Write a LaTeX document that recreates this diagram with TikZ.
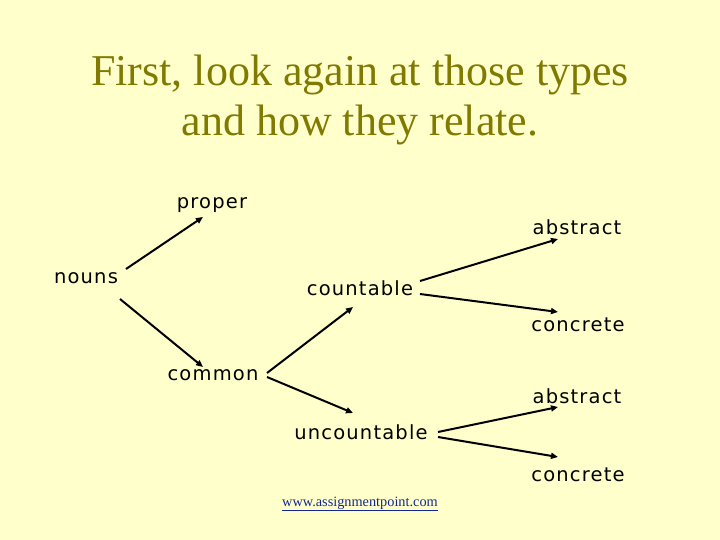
\documentclass[tikz,border=0pt]{standalone}
\usepackage{fontspec}
\setmainfont{Liberation Serif}
\newfontfamily\labelfont[LetterSpace=6]{DejaVu Sans}
\usetikzlibrary{arrows.meta}
\definecolor{slidebg}{RGB}{255,255,204}
\definecolor{titleolive}{RGB}{128,122,0}
\definecolor{linkblue}{RGB}{20,40,140}
\tikzset{
 word/.style={inner sep=0pt,anchor=base,font=\labelfont\fontsize{19.5}{24}\selectfont},
 heading/.style={inner sep=0pt,anchor=base,text=titleolive,font=\fontsize{44}{52}\selectfont},
 arrow/.style={-{Triangle[length=7pt,width=6pt]},line width=2pt,draw=black}}

\begin{document}
\begin{tikzpicture}[x=1pt,y=-1pt]
\fill[slidebg] (0,0) rectangle (720,540);
\node[heading] (title1) at (360,86) {First, look again at those types};
\node[heading] (title2) at (360,136) {and how they relate.};
\node[word] (nouns) at (86,283) {nouns};
\node[word] (proper) at (212,208) {proper};
\node[word] (common) at (213,380) {common};
\node[word] (countable) at (360,295) {countable};
\node[word] (uncountable) at (361,439) {uncountable};
\node[word] (abstractA) at (577,235) {abstract};
\node[word] (concreteA) at (578,331) {concrete};
\node[word] (abstractB) at (577,403) {abstract};
\node[word] (concreteB) at (578,481) {concrete};
\node[inner sep=0pt,anchor=base,text=linkblue,font=\fontsize{14.3}{16}\selectfont] (link) at (360,506) {\underline{www.assignmentpoint.com}};
\draw[arrow] ([shift={(40,-14)}]nouns.base) -- ([shift={(-9,9)}]proper.base);
\draw[arrow] ([shift={(34,16)}]nouns.base) -- ([shift={(-10,-13)}]common.base);
\draw[arrow] ([shift={(54,-7)}]common.base) -- ([shift={(-7,12)}]countable.base);
\draw[arrow] ([shift={(54,-3)}]common.base) -- ([shift={(-8,-26)}]uncountable.base);
\draw[arrow] ([shift={(60,-14)}]countable.base) -- ([shift={(-19,4)}]abstractA.base);
\draw[arrow] ([shift={(60,-1)}]countable.base) -- ([shift={(-20,-19)}]concreteA.base);
\draw[arrow] ([shift={(77,-7)}]uncountable.base) -- ([shift={(-19,4)}]abstractB.base);
\draw[arrow] ([shift={(77,-2)}]uncountable.base) -- ([shift={(-20,-24)}]concreteB.base);
\end{tikzpicture}
\end{document}
